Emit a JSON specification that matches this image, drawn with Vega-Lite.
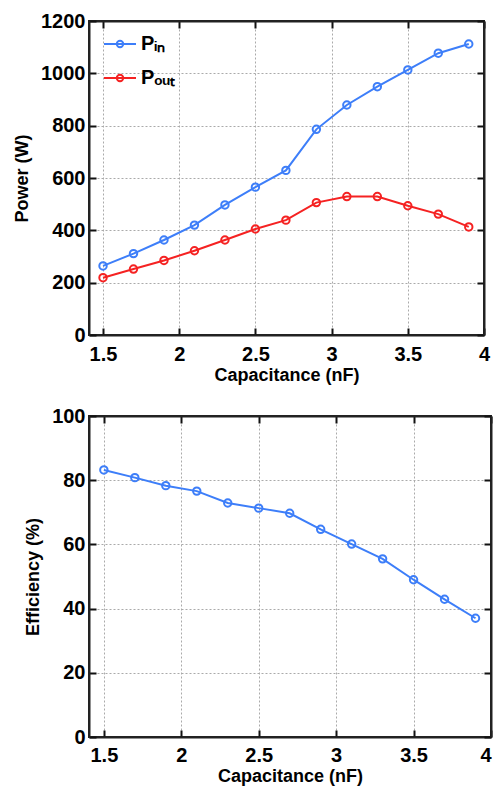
{
  "$schema": "https://vega.github.io/schema/vega-lite/v6.json",
  "autosize": {"type": "pad"},
  "padding": {"left": 12, "top": 10, "right": 0, "bottom": 0},
  "background": "white",
  "datasets": {
    "power": [
      {"c": 1.5, "series": "Pin", "value": 264},
      {"c": 1.7, "series": "Pin", "value": 311},
      {"c": 1.9, "series": "Pin", "value": 363},
      {"c": 2.1, "series": "Pin", "value": 420},
      {"c": 2.3, "series": "Pin", "value": 497},
      {"c": 2.5, "series": "Pin", "value": 565},
      {"c": 2.7, "series": "Pin", "value": 629},
      {"c": 2.9, "series": "Pin", "value": 786},
      {"c": 3.1, "series": "Pin", "value": 879},
      {"c": 3.3, "series": "Pin", "value": 949},
      {"c": 3.5, "series": "Pin", "value": 1013},
      {"c": 3.7, "series": "Pin", "value": 1077},
      {"c": 3.9, "series": "Pin", "value": 1112},
      {"c": 1.5, "series": "Pout", "value": 219},
      {"c": 1.7, "series": "Pout", "value": 252},
      {"c": 1.9, "series": "Pout", "value": 285},
      {"c": 2.1, "series": "Pout", "value": 322},
      {"c": 2.3, "series": "Pout", "value": 363},
      {"c": 2.5, "series": "Pout", "value": 405},
      {"c": 2.7, "series": "Pout", "value": 439},
      {"c": 2.9, "series": "Pout", "value": 506},
      {"c": 3.1, "series": "Pout", "value": 529},
      {"c": 3.3, "series": "Pout", "value": 529},
      {"c": 3.5, "series": "Pout", "value": 494},
      {"c": 3.7, "series": "Pout", "value": 462},
      {"c": 3.9, "series": "Pout", "value": 413}
    ],
    "eff": [
      {"c": 1.5, "efficiency": 83.2},
      {"c": 1.7, "efficiency": 80.8},
      {"c": 1.9, "efficiency": 78.3},
      {"c": 2.1, "efficiency": 76.6},
      {"c": 2.3, "efficiency": 72.9},
      {"c": 2.5, "efficiency": 71.3},
      {"c": 2.7, "efficiency": 69.7},
      {"c": 2.9, "efficiency": 64.7},
      {"c": 3.1, "efficiency": 60.1},
      {"c": 3.3, "efficiency": 55.5},
      {"c": 3.5, "efficiency": 49.0},
      {"c": 3.7, "efficiency": 42.9},
      {"c": 3.9, "efficiency": 37.0}
    ]
  },
  "spacing": 20,
  "vconcat": [
    {
      "width": 395,
      "height": 314,
      "resolve": {"axis": {"x": "independent", "y": "independent"}},
      "layer": [
        {
          "data": {"name": "power"},
          "mark": {"type": "line", "strokeWidth": 2, "point": {"filled": false, "size": 55, "strokeWidth": 2}},
          "encoding": {
            "x": {"field": "c", "type": "quantitative", "scale": {"domain": [1.408, 4], "nice": false, "zero": false},
              "axis": {"orient": "bottom", "title": "Capacitance (nF)",
                "values": [1.5, 2, 2.5, 3, 3.5, 4], "format": "~g",
                "grid": true, "ticks": true, "tickSize": -7, "tickColor": "#111111",
                "domain": true, "labelPadding": 16, "labelFlush": false, "labelOverlap": false, "titlePadding": 2}},
            "y": {"field": "value", "type": "quantitative", "scale": {"domain": [0, 1200], "nice": false},
              "axis": {"orient": "left", "title": "Power (W)",
                "values": [0, 200, 400, 600, 800, 1000, 1200], "format": "d",
                "grid": true, "ticks": true, "tickSize": -7, "tickColor": "#111111",
                "domain": true, "labelPadding": 11, "labelOverlap": false, "titlePadding": 9}},
            "color": {"field": "series", "type": "nominal", "scale": {"domain": ["Pin", "Pout"], "range": ["#3d7ef9", "#f52222"]},
              "legend": {"orient": "none", "legendX": 14, "legendY": 6, "title": null, "symbolType": "M-1,0L1,0M-0.2,0A0.2,0.2 0 1,0 0.2,0A0.2,0.2 0 1,0 -0.2,0", "symbolSize": 1024, "symbolStrokeWidth": 2, "symbolFillColor": "transparent", "labelFontSize": 20, "labelFontWeight": "bold", "labelFont": "Liberation Sans", "labelColor": "#000", "labelOffset": 4, "rowPadding": 7, "padding": 0, "labelExpr": "datum.label == 'Pin' ? 'Pᵢₙ' : 'Pₒᵤₜ'"}}
          }
        },
        {
          "data": {"name": "power"},
          "mark": {"type": "point", "opacity": 0},
          "encoding": {
            "x": {"field": "c", "type": "quantitative", "scale": {"domain": [1.408, 4], "nice": false, "zero": false},
              "axis": {"orient": "top", "title": null,
                "values": [1.5, 2, 2.5, 3, 3.5, 4],
                "labels": false, "grid": false, "domain": true, "domainColor": "#222222", "ticks": true, "tickSize": -7, "tickColor": "#111111"}},
            "y": {"field": "value", "type": "quantitative", "scale": {"domain": [0, 1200], "nice": false},
              "axis": {"orient": "right", "title": null,
                "values": [0, 200, 400, 600, 800, 1000, 1200],
                "labels": false, "grid": false, "domain": true, "domainColor": "#222222", "ticks": true, "tickSize": -7, "tickColor": "#111111"}}
          }
        }
      ]
    },
    {
      "width": 402,
      "height": 321,
      "resolve": {"axis": {"x": "independent", "y": "independent"}},
      "layer": [
        {
          "data": {"name": "eff"},
          "mark": {"type": "line", "strokeWidth": 2, "color": "#3d7ef9", "point": {"filled": false, "size": 55, "strokeWidth": 2, "color": "#3d7ef9"}},
          "encoding": {
            "x": {"field": "c", "type": "quantitative", "scale": {"domain": [1.404, 4], "nice": false, "zero": false},
              "axis": {"orient": "bottom", "title": "Capacitance (nF)",
                "values": [1.5, 2, 2.5, 3, 3.5, 4], "format": "~g",
                "grid": true, "ticks": true, "tickSize": -7, "tickColor": "#111111",
                "domain": true, "labelPadding": 15, "labelFlush": true, "labelOverlap": false, "titlePadding": 2}},
            "y": {"field": "efficiency", "type": "quantitative", "scale": {"domain": [0, 100], "nice": false},
              "axis": {"orient": "left", "title": "Efficiency (%)",
                "values": [0, 20, 40, 60, 80, 100], "format": "d",
                "grid": true, "ticks": true, "tickSize": -7, "tickColor": "#111111",
                "domain": true, "labelPadding": 11, "labelOverlap": false, "titlePadding": 9}}
          }
        },
        {
          "data": {"name": "eff"},
          "mark": {"type": "point", "opacity": 0},
          "encoding": {
            "x": {"field": "c", "type": "quantitative", "scale": {"domain": [1.404, 4], "nice": false, "zero": false},
              "axis": {"orient": "top", "title": null,
                "values": [1.5, 2, 2.5, 3, 3.5, 4],
                "labels": false, "grid": false, "domain": true, "domainColor": "#222222", "ticks": true, "tickSize": -7, "tickColor": "#111111"}},
            "y": {"field": "efficiency", "type": "quantitative", "scale": {"domain": [0, 100], "nice": false},
              "axis": {"orient": "right", "title": null,
                "values": [0, 20, 40, 60, 80, 100],
                "labels": false, "grid": false, "domain": true, "domainColor": "#222222", "ticks": true, "tickSize": -7, "tickColor": "#111111"}}
          }
        }
      ]
    }
  ],
  "config": {
    "font": "Liberation Sans",
    "view": {"stroke": "#222", "strokeWidth": 2},
    "axis": {
      "domainColor": "#222222",
      "domainWidth": 2,
      "tickWidth": 2,
      "gridColor": "#aaaaaa",
      "gridDash": [2, 2],
      "gridWidth": 1,
      "labelFont": "Liberation Sans",
      "labelFontSize": 20,
      "labelFontWeight": "bold",
      "labelColor": "#000",
      "titleFont": "Liberation Sans",
      "titleFontSize": 18,
      "titleFontWeight": "bold",
      "titleColor": "#000"
    }
  }
}
